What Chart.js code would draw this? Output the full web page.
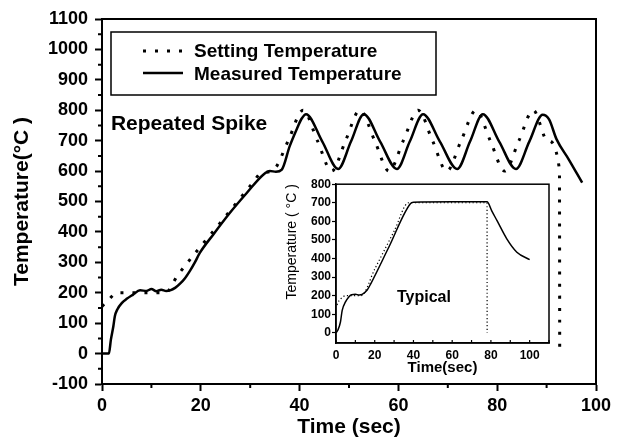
<!DOCTYPE html>
<html>
<head>
<meta charset="utf-8">
<title>Repeated spike temperature profile</title>
<script src="https://cdn.jsdelivr.net/npm/chart.js@4.4.1/dist/chart.umd.min.js"></script>
<style>
  body { margin: 0; background: #fff; }
  #wrap { position: relative; width: 619px; height: 445px; }
  #main { position: absolute; left: 0; top: 0; }
  #inset { position: absolute; left: 266px; top: 176px; }
</style>
</head>
<body>
<div id="wrap">
  <canvas id="main" width="619" height="445"></canvas>
  <canvas id="inset" width="290" height="204"></canvas>
</div>
<script>
// main plot, repeated spike run
var setTime = [0, 1.4, 3, 6, 9, 12.8, 15.3, 19.3, 23.4, 26.7, 30.6, 32, 34.8, 37.7, 40.7, 43.6, 46.5, 49.3, 52.2, 55.2,
  58.1, 61.0, 64.0, 66.9, 69.8, 72.7, 75.7, 78.6, 81.5, 84.4, 87.3, 90.2, 92.6, 92.65];
var setTemp = [155, 178, 200, 200, 200, 200, 257, 339, 419, 485, 563, 591, 605, 700, 800, 700, 600, 700, 800, 700,
  600, 700, 800, 700, 600, 700, 800, 700, 600, 700, 800, 700, 605, 20];

var measTime = [0, 1.4, 1.8, 2.3, 2.6, 3.1, 4.0, 5.0, 6.3, 7.7, 9, 10, 11, 12, 13, 13.8, 14.8, 15.8, 16.8, 17.8,
  18.8, 19.8, 22.5, 25.9, 29.3, 32.7, 34, 35.2, 36.4, 38, 39.4, 40.4, 41.3, 44.6, 47.8, 50.4, 53.0, 56.3, 59.7, 62.3,
  65.0, 68.4, 71.9, 74.5, 77.1, 80.4, 83.8, 86.5, 89.2, 90.5, 92.0, 94.5, 97.2];
var measTemp = [0, 0, 46, 90, 123, 145, 166, 180, 194, 208, 206, 212, 205, 210, 206, 208, 216, 230, 248, 272,
  300, 331, 391, 463, 528, 589, 600, 598, 605, 682, 737, 772, 787, 697, 607, 697, 787, 697, 607, 697,
  787, 697, 607, 697, 787, 697, 607, 697, 785, 770, 705, 638, 562];

// inset, typical run
var typSetTime = [0.5, 1.4, 3.2, 5, 13, 20, 30, 37.5, 60, 78, 78.05];
var typSetTemp = [150, 170, 190, 200, 200, 343, 547, 700, 700, 700, 0];
var typMeasTime = [0, 1, 2.3, 3.2, 4.9, 6.6, 8, 10, 12, 13.5, 16.1, 18, 27, 38.4, 40, 60, 78, 80.5, 83.1, 88.2, 93.4, 100];
var typMeasTemp = [0, 15, 58, 121, 166, 193, 205, 207, 204, 207, 230, 265, 455, 695, 703, 705, 705, 655, 605, 506, 434, 394];

// ticks
var xTicks = [0, 20, 40, 60, 80, 100];
var xLabels = ['0', '20', '40', '60', '80', '100'];
var xMinor = [10, 30, 50, 70, 90];
var yTicks = [-100, 0, 100, 200, 300, 400, 500, 600, 700, 800, 900, 1000, 1100];
var yLabels = ['-100', '0', '100', '200', '300', '400', '500', '600', '700', '800', '900', '1000', '1100'];
var yMinor = [-50, 50, 150, 250, 350, 450, 550, 650, 750, 850, 950, 1050];

var insetXTicks = [0, 20, 40, 60, 80, 100];
var insetXLabels = ['0', '20', '40', '60', '80', '100'];
var insetXMarks = [0, 10, 20, 30, 40, 50, 60, 70, 80, 90, 100, 110];
var insetYTicks = [0, 100, 200, 300, 400, 500, 600, 700, 800];
var insetYLabels = ['0', '100', '200', '300', '400', '500', '600', '700', '800'];

var FONT = "'Liberation Sans', Arial, sans-serif";
Chart.defaults.font.family = FONT;
Chart.defaults.color = '#000';

function pts(xs, ys) {
  return xs.map(function (x, i) { return {x: x, y: ys[i]}; });
}

function fixTicks(values) {
  return function (scale) {
    scale.ticks = values.map(function (v) { return {value: v}; });
  };
}

// frame, minor ticks, legend and notes
var extras = {
  id: 'extras',
  afterDraw: function (chart, args, opts) {
    var ctx = chart.ctx, a = chart.chartArea;
    var x = chart.scales.x, y = chart.scales.y;
    ctx.save();
    ctx.strokeStyle = '#000';
    ctx.fillStyle = '#000';
    ctx.lineWidth = opts.frameWidth;
    ctx.strokeRect(a.left, a.top, a.right - a.left, a.bottom - a.top);

    ctx.lineWidth = opts.markWidth;
    ctx.beginPath();
    (opts.marks || []).forEach(function (m) {
      m.values.forEach(function (v) {
        if (m.axis === 'x') {
          var px = x.getPixelForValue(v);
          ctx.moveTo(px, a.bottom);
          ctx.lineTo(px, a.bottom + m.len);
        } else {
          var py = y.getPixelForValue(v);
          ctx.moveTo(a.left, py);
          ctx.lineTo(a.left - m.len, py);
        }
      });
    });
    ctx.stroke();

    if (opts.legend) {
      var L = opts.legend;
      var bx = a.left + L.dx, by = a.top + L.dy;
      ctx.lineWidth = 1.5;
      ctx.strokeRect(bx, by, L.w, L.h);
      ctx.font = L.font;
      ctx.textAlign = 'left';
      ctx.textBaseline = 'alphabetic';
      chart.data.datasets.forEach(function (ds, i) {
        var ly = by + L.lineY[i];
        ctx.beginPath();
        ctx.lineWidth = ds.borderWidth;
        ctx.setLineDash(ds.borderDash || []);
        ctx.moveTo(bx + L.sampleX, ly);
        ctx.lineTo(bx + L.sampleX + L.sampleW, ly);
        ctx.stroke();
        ctx.setLineDash([]);
        ctx.fillText(ds.label, bx + L.textX, by + L.textY[i]);
      });
    }

    (opts.notes || []).forEach(function (n) {
      ctx.font = n.font;
      ctx.textAlign = n.align;
      ctx.textBaseline = 'alphabetic';
      ctx.fillText(n.text, x.getPixelForValue(n.x), y.getPixelForValue(n.y));
    });
    ctx.restore();
  }
};

new Chart(document.getElementById('main'), {
  type: 'line',
  data: {
    datasets: [
      {
        label: 'Setting Temperature',
        data: pts(setTime, setTemp),
        borderColor: '#000',
        borderWidth: 3,
        borderDash: [3, 9],
        pointRadius: 0,
        cubicInterpolationMode: 'monotone',
        fill: false
      },
      {
        label: 'Measured Temperature',
        data: pts(measTime, measTemp),
        borderColor: '#000',
        borderWidth: 2.5,
        pointRadius: 0,
        cubicInterpolationMode: 'monotone',
        fill: false
      }
    ]
  },
  options: {
    responsive: false,
    animation: false,
    events: [],
    layout: {padding: {top: 19, right: 23, left: 0, bottom: 0}},
    plugins: {
      legend: {display: false},
      tooltip: {enabled: false},
      extras: {
        frameWidth: 2,
        markWidth: 2,
        marks: [
          {axis: 'x', values: xMinor, len: 4},
          {axis: 'y', values: yMinor, len: 4}
        ],
        legend: {
          dx: 9, dy: 13, w: 325, h: 63,
          sampleX: 32, sampleW: 40, textX: 83,
          lineY: [19, 41], textY: [25, 48],
          font: 'bold 19px ' + FONT
        },
        notes: [
          {text: 'Repeated Spike', x: 1.8, y: 735, align: 'left', font: 'bold 21px ' + FONT}
        ]
      }
    },
    scales: {
      x: {
        type: 'linear',
        min: 0,
        max: 100,
        afterBuildTicks: fixTicks(xTicks),
        afterFit: function (s) { s.height = 61; },
        ticks: {
          font: {size: 18, weight: 'bold'},
          padding: 4,
          maxRotation: 0,
          autoSkip: false,
          callback: function (v, i) { return xLabels[i]; }
        },
        grid: {drawOnChartArea: false, tickLength: 7, tickWidth: 2, tickColor: '#000'},
        border: {color: '#000', width: 2},
        title: {
          display: true,
          text: 'Time (sec)',
          font: {size: 21, weight: 'bold'},
          padding: {top: 0, bottom: 5}
        }
      },
      y: {
        type: 'linear',
        min: -100,
        max: 1100,
        afterBuildTicks: fixTicks(yTicks),
        afterFit: function (s) { s.width = 102; },
        ticks: {
          font: {size: 18, weight: 'bold'},
          padding: 7,
          autoSkip: false,
          callback: function (v, i) { return yLabels[i]; }
        },
        grid: {drawOnChartArea: false, tickLength: 7, tickWidth: 2, tickColor: '#000'},
        border: {color: '#000', width: 2},
        title: {
          display: true,
          text: 'Temperature(°C )',
          font: {size: 21, weight: 'bold'},
          padding: {top: 10, bottom: 0}
        }
      }
    }
  },
  plugins: [extras]
});

new Chart(document.getElementById('inset'), {
  type: 'line',
  data: {
    datasets: [
      {
        label: 'Setting',
        data: pts(typSetTime, typSetTemp),
        borderColor: '#000',
        borderWidth: 1.2,
        borderDash: [1.2, 2.4],
        pointRadius: 0,
        cubicInterpolationMode: 'monotone',
        fill: false
      },
      {
        label: 'Measured',
        data: pts(typMeasTime, typMeasTemp),
        borderColor: '#000',
        borderWidth: 1.5,
        pointRadius: 0,
        cubicInterpolationMode: 'monotone',
        fill: false
      }
    ]
  },
  options: {
    responsive: false,
    animation: false,
    events: [],
    layout: {padding: {top: 8, right: 7, left: 0, bottom: 0}},
    plugins: {
      legend: {display: false},
      tooltip: {enabled: false},
      extras: {
        frameWidth: 1.5,
        markWidth: 1.2,
        marks: [
          {axis: 'x', values: insetXMarks, len: -3}
        ],
        notes: [
          {text: 'Typical', x: 45.4, y: 166, align: 'center', font: 'bold 16px ' + FONT}
        ]
      }
    },
    scales: {
      x: {
        type: 'linear',
        min: 0,
        max: 110,
        afterBuildTicks: fixTicks(insetXTicks),
        afterFit: function (s) { s.height = 37; },
        ticks: {
          font: {size: 12, weight: 'bold'},
          padding: 5,
          maxRotation: 0,
          autoSkip: false,
          callback: function (v, i) { return insetXLabels[i]; }
        },
        grid: {drawOnChartArea: false, drawTicks: false},
        border: {color: '#000', width: 1.5},
        title: {
          display: true,
          text: 'Time(sec)',
          font: {size: 15, weight: 'bold'},
          padding: {top: 0, bottom: 3}
        }
      },
      y: {
        type: 'linear',
        min: -55,
        max: 800,
        afterBuildTicks: fixTicks(insetYTicks),
        afterFit: function (s) { s.width = 70; },
        ticks: {
          font: {size: 12, weight: 'bold'},
          padding: 1,
          autoSkip: false,
          callback: function (v, i) { return insetYLabels[i]; }
        },
        grid: {drawOnChartArea: false, tickLength: 4, tickWidth: 1.2, tickColor: '#000'},
        border: {color: '#000', width: 1.5},
        title: {
          display: true,
          text: 'Temperature ( °C )',
          align: 'end',
          font: {size: 14},
          padding: {top: 18, bottom: 0}
        }
      }
    }
  },
  plugins: [extras]
});
</script>
</body>
</html>
